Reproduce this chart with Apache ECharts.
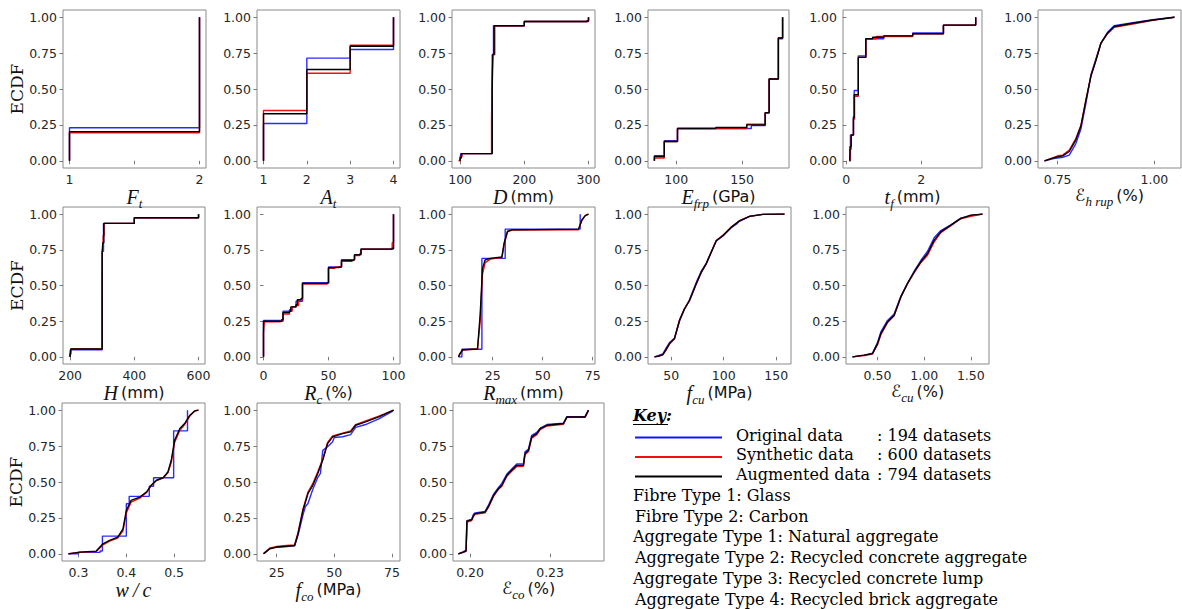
<!DOCTYPE html>
<html>
<head>
<meta charset="utf-8">
<script src="https://cdn.jsdelivr.net/npm/echarts@6/dist/echarts.min.js"></script>
<style>
  html, body { margin: 0; padding: 0; background: #fff; }
  #chart { width: 1182px; height: 609px; }
</style>
</head>
<body>
<div id="chart"></div>
<script>
// ECDF breakpoints [value, cumulative fraction] for each variable:
// original (194), synthetic (600) and augmented (794) datasets.

// Fibre type
const ftOriginal  = [[1, 0], [1, 0.23], [2, 1]];
const ftSynthetic = [[1, 0], [1, 0.195], [2, 1]];
const ftAugmented = [[1, 0], [1, 0.203], [2, 1]];
const ftTicks = [1, 2];

// Aggregate type
const atOriginal  = [[1, 0], [1, 0.26], [2, 0.715], [3, 0.775], [4, 1]];
const atSynthetic = [[1, 0], [1, 0.35], [2, 0.61], [3, 0.805], [4, 1]];
const atAugmented = [[1, 0], [1, 0.328], [2, 0.636], [3, 0.798], [4, 1]];
const atTicks = [1, 2, 3, 4];

// Column diameter D (mm)
const dOriginal  = [[100, 0], [101, 0.05], [150, 0.74], [152, 0.94], [200, 0.97], [300, 1]];
const dSynthetic = [[97.5, 0], [100, 0.03], [103, 0.05], [149, 0.3], [150, 0.6], [151, 0.74], [154, 0.94], [200, 0.97], [297, 0.975], [300, 1]];
const dAugmented = [[100, 0], [100, 0.02], [102, 0.05], [150, 0.5], [151, 0.74], [153, 0.94], [200, 0.97], [298, 0.975], [300, 1]];
const dTicks = [100, 200, 300];

// FRP elastic modulus (GPa)
const eOriginal  = [[83.5, 0], [83.5, 0.035], [91, 0.14], [101, 0.225], [157, 0.245], [167.5, 0.335], [170.5, 0.57], [177.5, 0.85], [180.7, 1]];
const eSynthetic = [[83.5, 0], [83.5, 0.02], [91, 0.135], [101, 0.225], [153.5, 0.255], [167.5, 0.335], [170.5, 0.57], [177.5, 0.857], [180.7, 1]];
const eAugmented = [[83.5, 0], [83.5, 0.03], [91, 0.135], [101, 0.225], [130, 0.232], [153.5, 0.25], [167.5, 0.335], [170.5, 0.57], [177.5, 0.855], [180.7, 1]];
const eTicks = [100, 150];

// FRP thickness t_f (mm)
const tfOriginal  = [[0.09, 0], [0.11, 0.18], [0.19, 0.31], [0.21, 0.49], [0.32, 0.73], [0.52, 0.85], [1.0, 0.87], [1.77, 0.89], [2.59, 0.945], [3.45, 1]];
const tfSynthetic = [[0.08, 0], [0.1, 0.08], [0.13, 0.18], [0.19, 0.29], [0.22, 0.45], [0.32, 0.72], [0.52, 0.85], [0.8, 0.865], [1.77, 0.885], [2.59, 0.945], [3.45, 1]];
const tfAugmented = [[0.09, 0], [0.1, 0.1], [0.13, 0.18], [0.19, 0.3], [0.21, 0.46], [0.32, 0.72], [0.52, 0.85], [0.7, 0.86], [1.0, 0.87], [1.77, 0.885], [2.59, 0.945], [3.45, 1]];
const tfTicks = [0, 2];

// FRP hoop rupture strain (%)
const ehOriginal  = [[0.716, 0], [0.74, 0.015], [0.763, 0.025], [0.78, 0.04], [0.797, 0.12], [0.81, 0.22], [0.823, 0.4], [0.836, 0.6], [0.849, 0.71], [0.862, 0.82], [0.879, 0.895], [0.896, 0.94], [0.944, 0.962], [0.996, 0.982], [1.052, 1]];
const ehSynthetic = [[0.716, 0], [0.737, 0.02], [0.75, 0.035], [0.763, 0.04], [0.78, 0.075], [0.797, 0.155], [0.81, 0.245], [0.823, 0.425], [0.836, 0.59], [0.849, 0.7], [0.862, 0.82], [0.879, 0.885], [0.896, 0.93], [0.944, 0.952], [0.996, 0.978], [1.052, 1]];
const ehAugmented = [[0.716, 0], [0.737, 0.019], [0.763, 0.035], [0.78, 0.065], [0.797, 0.146], [0.81, 0.24], [0.823, 0.42], [0.836, 0.59], [0.849, 0.7], [0.862, 0.82], [0.879, 0.89], [0.896, 0.935], [0.944, 0.958], [0.996, 0.98], [1.052, 1]];
const ehTicks = [0.75, 1.0];

// Column height H (mm)
const hOriginal  = [[200, 0], [201, 0.05], [300, 0.74], [304, 0.935], [400, 0.975], [600, 1]];
const hSynthetic = [[198, 0], [200, 0.02], [203, 0.055], [299, 0.4], [300, 0.74], [303, 0.85], [306, 0.935], [400, 0.975], [600, 1]];
const hAugmented = [[200, 0], [200, 0.01], [202, 0.055], [300, 0.74], [302, 0.8], [305, 0.935], [400, 0.975], [600, 1]];
const hTicks = [200, 400, 600];

// Recycled aggregate replacement ratio R_c (%)
const rcOriginal  = [[0, 0], [0, 0.256], [15, 0.32], [20, 0.33], [22, 0.35], [25, 0.39], [30, 0.52], [50, 0.63], [60, 0.68], [70, 0.715], [75, 0.755], [100, 1]];
const rcSynthetic = [[0, 0], [0, 0.17], [0.5, 0.23], [1, 0.245], [13, 0.25], [15, 0.3], [20, 0.32], [22, 0.35], [25, 0.36], [27, 0.4], [30, 0.51], [49, 0.515], [50, 0.62], [55, 0.63], [60, 0.67], [68, 0.68], [70, 0.71], [74, 0.72], [75, 0.755], [98, 0.76], [99, 0.8], [100, 1]];
const rcAugmented = [[0, 0], [0, 0.25], [14, 0.26], [15, 0.31], [20, 0.32], [21, 0.35], [25, 0.365], [26, 0.4], [29, 0.41], [30, 0.515], [49, 0.52], [50, 0.625], [58, 0.63], [60, 0.675], [69, 0.68], [70, 0.715], [74, 0.72], [75, 0.755], [99, 0.76], [100, 1]];
const rcTicks = [0, 50, 100];

// Maximum aggregate size R_max (mm)
const rmOriginal  = [[7.9, 0], [9.6, 0.053], [19.6, 0.69], [31.25, 0.895], [68.75, 1]];
const rmSynthetic = [[7.9, 0], [8.5, 0.015], [10, 0.048], [17.4, 0.055], [18.75, 0.25], [19.9, 0.58], [21.25, 0.66], [23.75, 0.685], [29.6, 0.695], [30.75, 0.79], [32.4, 0.875], [34.6, 0.888], [67.9, 0.89], [69.6, 0.955], [71.25, 0.99], [72.9, 1]];
const rmAugmented = [[7.9, 0], [8.5, 0.02], [10, 0.05], [17.4, 0.055], [18.75, 0.3], [19.9, 0.62], [21.25, 0.68], [23.75, 0.69], [29.6, 0.7], [30.75, 0.8], [32.4, 0.88], [34.6, 0.89], [67.9, 0.895], [69.6, 0.96], [71.25, 0.99], [72.9, 1]];
const rmTicks = [25, 50, 75];

// Unconfined cube strength f_cu (MPa)
const fcuOriginal  = [[34.1, 0], [42, 0.02], [45, 0.06], [48.4, 0.1], [53.1, 0.13], [57.9, 0.25], [62.7, 0.335], [67.4, 0.4], [73.8, 0.52], [78.6, 0.6], [83.3, 0.655], [88.1, 0.735], [92.9, 0.812], [99.1, 0.845], [107.1, 0.905], [112, 0.93], [115, 0.95], [124.6, 0.985], [137.2, 0.998], [157.9, 1]];
const fcuSynthetic = [[34.1, 0], [38, 0.004], [42, 0.015], [45, 0.045], [48.4, 0.09], [53.1, 0.125], [57.9, 0.258], [62.7, 0.338], [67.4, 0.392], [73.8, 0.508], [78.6, 0.59], [83.3, 0.65], [88.1, 0.732], [92.9, 0.815], [99.1, 0.851], [107.1, 0.91], [115, 0.954], [124.6, 0.984], [137.2, 0.998], [157.9, 1]];
const fcuAugmented = [[34.1, 0], [38, 0.005], [42, 0.016], [45, 0.05], [48.4, 0.093], [53.1, 0.128], [57.9, 0.256], [62.7, 0.337], [67.4, 0.395], [73.8, 0.512], [78.6, 0.593], [83.3, 0.651], [88.1, 0.733], [92.9, 0.814], [99.1, 0.849], [107.1, 0.907], [115, 0.953], [124.6, 0.984], [137.2, 0.998], [157.9, 1]];
const fcuTicks = [50, 100, 150];

// Ultimate axial strain of confined concrete (%)
const ecuOriginal  = [[0.232, 0], [0.357, 0.012], [0.446, 0.025], [0.5, 0.1], [0.536, 0.175], [0.607, 0.255], [0.678, 0.3], [0.75, 0.425], [0.821, 0.515], [0.893, 0.6], [0.964, 0.675], [1.036, 0.74], [1.107, 0.835], [1.178, 0.885], [1.286, 0.925], [1.393, 0.972], [1.5, 0.99], [1.625, 1]];
const ecuSynthetic = [[0.232, 0], [0.357, 0.01], [0.446, 0.02], [0.5, 0.085], [0.536, 0.155], [0.607, 0.24], [0.678, 0.288], [0.75, 0.418], [0.821, 0.512], [0.893, 0.59], [0.964, 0.66], [1.036, 0.712], [1.107, 0.805], [1.178, 0.87], [1.286, 0.92], [1.393, 0.968], [1.5, 0.985], [1.625, 1]];
const ecuAugmented = [[0.232, 0], [0.357, 0.012], [0.446, 0.023], [0.5, 0.093], [0.536, 0.164], [0.607, 0.245], [0.678, 0.292], [0.75, 0.42], [0.821, 0.514], [0.893, 0.596], [0.964, 0.666], [1.036, 0.724], [1.107, 0.818], [1.178, 0.876], [1.286, 0.923], [1.393, 0.97], [1.5, 0.993], [1.625, 1]];
const ecuTicks = [0.5, 1.0, 1.5];

// Water-cement ratio
const wcOriginal  = [[0.279, 0], [0.3, 0.01], [0.345, 0.02], [0.35, 0.123], [0.4, 0.349], [0.406, 0.4], [0.448, 0.47], [0.457, 0.53], [0.499, 0.856], [0.528, 1]];
const wcSynthetic = [[0.279, 0], [0.302, 0.01], [0.337, 0.017], [0.351, 0.062], [0.365, 0.088], [0.382, 0.11], [0.393, 0.16], [0.4, 0.285], [0.41, 0.36], [0.428, 0.388], [0.442, 0.425], [0.452, 0.475], [0.463, 0.51], [0.477, 0.528], [0.487, 0.565], [0.494, 0.635], [0.501, 0.775], [0.512, 0.86], [0.522, 0.9], [0.533, 0.96], [0.543, 0.994], [0.551, 1]];
const wcAugmented = [[0.279, 0], [0.302, 0.012], [0.337, 0.019], [0.351, 0.07], [0.365, 0.093], [0.382, 0.116], [0.393, 0.174], [0.4, 0.302], [0.41, 0.372], [0.428, 0.395], [0.442, 0.43], [0.452, 0.477], [0.463, 0.512], [0.477, 0.53], [0.487, 0.57], [0.494, 0.651], [0.501, 0.79], [0.512, 0.872], [0.522, 0.907], [0.533, 0.965], [0.543, 0.995], [0.551, 1]];
const wcTicks = [0.3, 0.4, 0.5];

// Unconfined cylinder strength f_co (MPa)
const fcoOriginal  = [[19.3, 0], [20, 0.01], [22.1, 0.04], [25, 0.045], [29.3, 0.05], [32.8, 0.055], [34.3, 0.13], [36.4, 0.27], [37.5, 0.33], [38.6, 0.35], [40.7, 0.45], [42.8, 0.53], [44, 0.56], [45, 0.72], [47.1, 0.745], [49.3, 0.78], [50, 0.81], [53.6, 0.815], [57.1, 0.83], [59.3, 0.88], [63.6, 0.9], [69.3, 0.94], [75, 0.99], [75.7, 1]];
const fcoSynthetic = [[19.3, 0], [22.1, 0.04], [25, 0.052], [29.3, 0.058], [32.8, 0.062], [34.3, 0.15], [36.4, 0.31], [38.6, 0.43], [40.7, 0.49], [42.8, 0.57], [45, 0.66], [47.1, 0.775], [49.3, 0.82], [53.6, 0.84], [57.1, 0.855], [59.3, 0.9], [63.6, 0.925], [69.3, 0.958], [75, 0.995], [75.7, 1]];
const fcoAugmented = [[19.3, 0], [20.5, 0.015], [22.1, 0.035], [25, 0.047], [29.3, 0.053], [32.8, 0.058], [34.3, 0.14], [36.4, 0.3], [38.6, 0.42], [40.7, 0.477], [42.8, 0.558], [45, 0.651], [47.1, 0.767], [49.3, 0.814], [53.6, 0.837], [57.1, 0.849], [59.3, 0.895], [63.6, 0.919], [69.3, 0.953], [75, 0.995], [75.7, 1]];
const fcoTicks = [25, 50, 75];

// Strain at unconfined peak stress (%)
const ecoOriginal  = [[0.1956, 0], [0.1975, 0.015], [0.1985, 0.025], [0.1988, 0.23], [0.2006, 0.24], [0.2013, 0.275], [0.2019, 0.285], [0.2056, 0.295], [0.2069, 0.34], [0.2088, 0.415], [0.2106, 0.46], [0.2119, 0.49], [0.2138, 0.555], [0.2156, 0.59], [0.2175, 0.625], [0.22, 0.625], [0.2206, 0.71], [0.2219, 0.73], [0.2231, 0.825], [0.225, 0.845], [0.2263, 0.875], [0.2288, 0.9], [0.235, 0.91], [0.2363, 0.955], [0.2431, 0.955], [0.2444, 1]];
const ecoSynthetic = [[0.1956, 0], [0.1975, 0.01], [0.1985, 0.017], [0.1989, 0.22], [0.2006, 0.232], [0.2013, 0.262], [0.2019, 0.275], [0.2056, 0.285], [0.2069, 0.325], [0.2088, 0.4], [0.2106, 0.448], [0.2119, 0.47], [0.2138, 0.54], [0.2156, 0.575], [0.2175, 0.608], [0.22, 0.61], [0.2206, 0.69], [0.2219, 0.712], [0.2231, 0.805], [0.225, 0.83], [0.2263, 0.865], [0.2288, 0.89], [0.235, 0.902], [0.2363, 0.95], [0.2431, 0.95], [0.2444, 1]];
const ecoAugmented = [[0.1956, 0], [0.1975, 0.012], [0.1985, 0.02], [0.1988, 0.228], [0.2006, 0.237], [0.2013, 0.267], [0.2019, 0.28], [0.2056, 0.29], [0.2069, 0.33], [0.2088, 0.407], [0.2106, 0.453], [0.2119, 0.477], [0.2138, 0.547], [0.2156, 0.581], [0.2175, 0.616], [0.22, 0.616], [0.2206, 0.698], [0.2219, 0.721], [0.2231, 0.814], [0.225, 0.837], [0.2263, 0.872], [0.2288, 0.895], [0.235, 0.907], [0.2363, 0.953], [0.2431, 0.953], [0.2444, 1]];
const ecoTicks = [0.2, 0.23];

const ecdfTicks = [0, 0.25, 0.5, 0.75, 1];

const seriesNames  = ['Original data', 'Synthetic data', 'Augmented data'];
const seriesCounts = [194, 600, 794];
const seriesColors = ['#1414ff', '#f01010', '#000000'];

const keyNotes = [
  'Fibre Type 1: Glass',
  'Fibre Type 2: Carbon',
  'Aggregate Type 1: Natural aggregate',
  'Aggregate Type 2: Recycled concrete aggregate',
  'Aggregate Type 3: Recycled concrete lump',
  'Aggregate Type 4: Recycled brick aggregate'
];

// ---- layout of the 14 panels: [left, top, width, height] ----
const S = true, L = false; // step drawing per series (original, synthetic, augmented)
const panels = [
  { box: [63, 10, 143, 158],   name: '{v|F}{s|t}',                 data: [ftOriginal, ftSynthetic, ftAugmented],   step: [S, S, S], ticks: ftTicks,  minor: [1.5], dec: 0, ecdf: true },
  { box: [257, 10, 143, 158],  name: '{v|A}{s|t}',                 data: [atOriginal, atSynthetic, atAugmented],   step: [S, S, S], ticks: atTicks,  dec: 0 },
  { box: [452, 10, 143, 158],  name: '{v|D}{u|(mm)}',              data: [dOriginal, dSynthetic, dAugmented],      step: [S, S, S], ticks: dTicks,   dec: 0 },
  { box: [648, 10, 141, 158],  name: '{v|E}{s|frp}{u|(GPa)}',      data: [eOriginal, eSynthetic, eAugmented],      step: [S, S, S], ticks: eTicks,   dec: 0 },
  { box: [843, 10, 139, 158],  name: '{v|t}{s|f}{u|(mm)}',         data: [tfOriginal, tfSynthetic, tfAugmented],   step: [S, S, S], ticks: tfTicks,  dec: 0 },
  { box: [1038, 10, 143, 158], name: '{e|ℰ}{s|h rup}{u|(%)}',      data: [ehOriginal, ehSynthetic, ehAugmented],   step: [L, L, L], ticks: ehTicks,  dec: 2 },
  { box: [63, 207, 142, 157],  name: '{v|H}{u|(mm)}',              data: [hOriginal, hSynthetic, hAugmented],      step: [S, S, S], ticks: hTicks,   dec: 0, ecdf: true },
  { box: [257, 207, 143, 157], name: '{v|R}{s|c}{u|(%)}',          data: [rcOriginal, rcSynthetic, rcAugmented],   step: [S, S, S], ticks: rcTicks,  dec: 0 },
  { box: [452, 207, 143, 157], name: '{v|R}{s|max}{u|(mm)}',       data: [rmOriginal, rmSynthetic, rmAugmented],   step: [S, L, L], ticks: rmTicks,  dec: 0 },
  { box: [648, 207, 143, 157], name: '{v|f}{s|cu}{u|(MPa)}',       data: [fcuOriginal, fcuSynthetic, fcuAugmented], step: [L, L, L], ticks: fcuTicks, dec: 0 },
  { box: [846, 207, 143, 157], name: '{e|ℰ}{s|cu}{u|(%)}',         data: [ecuOriginal, ecuSynthetic, ecuAugmented], step: [L, L, L], ticks: ecuTicks, dec: 2 },
  { box: [62, 403, 143, 158],  name: '{v|w\u2009/\u2009c}',        data: [wcOriginal, wcSynthetic, wcAugmented],   step: [S, L, L], ticks: wcTicks,  dec: 1, ecdf: true },
  { box: [257, 403, 143, 158], name: '{v|f}{s|co}{u|(MPa)}',       data: [fcoOriginal, fcoSynthetic, fcoAugmented], step: [L, L, L], ticks: fcoTicks, dec: 0 },
  { box: [453, 403, 151, 158], name: '{e|ℰ}{s|co}{u|(%)}',         data: [ecoOriginal, ecoSynthetic, ecoAugmented], step: [L, L, L], ticks: ecoTicks, dec: 2, range: [0.1936, 0.2502] }
];

const tickFont = { fontFamily: 'DejaVu Sans', fontSize: 12.5, color: '#262626' };
const nameRich = {
  v: { fontFamily: 'Liberation Serif', fontStyle: 'italic', fontSize: 20, lineHeight: 26, color: '#111' },
  e: { fontFamily: 'DejaVu Sans', fontSize: 17, lineHeight: 26, color: '#111' },
  s: { fontFamily: 'Liberation Serif', fontStyle: 'italic', fontSize: 13, lineHeight: 13, verticalAlign: 'bottom', color: '#111' },
  u: { fontFamily: 'DejaVu Sans', fontSize: 16, lineHeight: 26, color: '#111', padding: [0, 0, 0, 3] }
};

// matplotlib-style 5% padding around the data extent
function paddedRange(arrays) {
  let lo = Infinity, hi = -Infinity;
  arrays.forEach(a => a.forEach(p => { lo = Math.min(lo, p[0]); hi = Math.max(hi, p[0]); }));
  const pad = (hi - lo) * 0.05;
  return [lo - pad, hi + pad];
}

const grid = [], xAxis = [], yAxis = [], series = [];
panels.forEach((p, i) => {
  grid.push({
    left: p.box[0], top: p.box[1], width: p.box[2], height: p.box[3],
    show: true, borderColor: '#8a8a8a', borderWidth: 1, backgroundColor: '#fff'
  });
  const r = p.range || paddedRange(p.data);
  xAxis.push({
    type: 'value', gridIndex: i, min: r[0], max: r[1],
    axisLine: { show: false },
    splitLine: { show: false },
    axisTick: { show: true, length: 3.5, lineStyle: { color: '#777' }, customValues: p.ticks.concat(p.minor || []) },
    axisLabel: Object.assign({ margin: 5, customValues: p.ticks, formatter: v => v.toFixed(p.dec) }, tickFont),
    name: p.name, nameLocation: 'middle', nameGap: 9,
    nameTextStyle: { rich: nameRich, fontSize: 16 }
  });
  yAxis.push({
    type: 'value', gridIndex: i, min: -0.05, max: 1.05,
    axisLine: { show: false },
    splitLine: { show: false },
    axisTick: { show: true, length: 3.5, lineStyle: { color: '#777' }, customValues: ecdfTicks },
    axisLabel: Object.assign({ margin: 6, customValues: ecdfTicks, formatter: v => v.toFixed(2) }, tickFont),
    name: p.ecdf ? 'ECDF' : '', nameLocation: 'middle', nameRotate: 90, nameGap: 37,
    nameTextStyle: { fontFamily: 'DejaVu Serif', fontSize: 17, color: '#111' }
  });
  p.data.forEach((d, k) => {
    series.push({
      name: seriesNames[k], type: 'line', xAxisIndex: i, yAxisIndex: i,
      data: d, step: p.step[k] ? 'end' : false,
      showSymbol: false, symbol: 'none', silent: true, z: 2 + k,
      lineStyle: { color: seriesColors[k], width: 1.4, opacity: k === 0 ? 0.9 : 1 }
    });
  });
});

// ---- key ----
const serifFont = '16px "DejaVu Serif"';
const graphic = [];
graphic.push({ type: 'text', x: 633, y: 415, style: { text: 'Key:', font: 'italic bold 16px "DejaVu Serif"', fill: '#000', verticalAlign: 'middle' } });
graphic.push({ type: 'line', shape: { x1: 633, y1: 424.5, x2: 668, y2: 424.5 }, style: { stroke: '#000', lineWidth: 1.2 } });
seriesNames.forEach((n, k) => {
  const y = 435 + k * 19.5;
  graphic.push({ type: 'line', shape: { x1: 635, y1: y + 2.5, x2: 722, y2: y + 2.5 }, style: { stroke: seriesColors[k], lineWidth: 1.8 } });
  graphic.push({ type: 'text', x: 736, y: y, style: { text: n, font: serifFont, fill: '#000', verticalAlign: 'middle' } });
  graphic.push({ type: 'text', x: 877, y: y, style: { text: ': ' + seriesCounts[k] + ' datasets', font: serifFont, fill: '#000', verticalAlign: 'middle' } });
});
keyNotes.forEach((t, j) => {
  graphic.push({ type: 'text', x: j % 2 ? 635 : 633, y: 495.5 + j * 20.7, style: { text: t, font: serifFont, fill: '#000', verticalAlign: 'middle' } });
});

const chart = echarts.init(document.getElementById('chart'), null, { renderer: 'svg' });
chart.setOption({
  animation: false,
  backgroundColor: '#fff',
  grid, xAxis, yAxis, series, graphic
});
</script>
</body>
</html>
